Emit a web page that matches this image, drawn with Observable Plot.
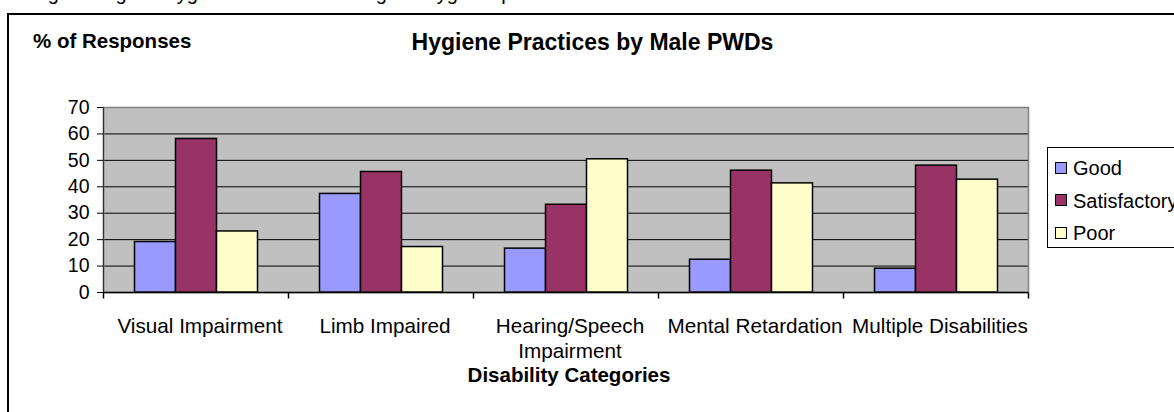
<!DOCTYPE html>
<html>
<head>
<meta charset="utf-8">
<script src="https://cdn.jsdelivr.net/npm/d3@7"></script>
<script src="https://cdn.jsdelivr.net/npm/@observablehq/plot@0.6"></script>
<style>
  html, body { margin: 0; padding: 0; background: #fff; overflow: hidden; }
  #wrap { position: relative; width: 1174px; height: 412px; overflow: hidden; font-family: "Liberation Sans", Arial, sans-serif; color: #000; }
  .abs { position: absolute; white-space: nowrap; line-height: 1; }
  #box { position: absolute; left: 7px; top: 13px; width: 1200px; height: 440px; border: 2px solid #000; box-sizing: border-box; }
  #chart { position: absolute; left: 0; top: 0; }
  #legend { position: absolute; left: 1047px; top: 147px; width: 160px; height: 101px; border: 1px solid #000; box-sizing: border-box; background: #fff; }
  .sw { position: absolute; width: 12px; height: 12px; border: 1px solid #000; box-sizing: border-box; }
  .lt { position: absolute; font-size: 20px; line-height: 1; white-space: nowrap; }
</style>
</head>
<body>
<div id="wrap">
  <div class="abs" style="left:31px; top:-17px; font-size:20px;">Figure 8: good hygiene conditions and good hygiene practices</div>
  <div id="box"></div>
  <div id="chart"></div>
  <div class="abs" style="left:33px; top:30.6px; font-size:20.5px; font-weight:bold;">% of Responses</div>
  <div class="abs" id="title" style="left:592.5px; top:30.5px; font-size:23px; font-weight:bold; transform:translateX(-50%);">Hygiene Practices by Male PWDs</div>
  <div class="abs" style="left:569px; top:364.6px; font-size:20.5px; font-weight:bold; transform:translateX(-50%);">Disability Categories</div>
  <div id="legend"></div>
</div>
<script>
// ---- data ----
const categories = ["Visual Impairment", "Limb Impaired", "Hearing/Speech Impairment", "Mental Retardation", "Multiple Disabilities"];
const categoryLabels = ["Visual Impairment", "Limb Impaired", "Hearing/Speech\nImpairment", "Mental Retardation", "Multiple Disabilities"];
const series = ["Good", "Satisfactory", "Poor"];
const good = [19.1, 37.3, 16.6, 12.4, 9.0];
const satisfactory = [58.1, 45.6, 33.2, 46.1, 48.0];
const poor = [23.1, 17.2, 50.4, 41.3, 42.7];
const colors = ["#9999FF", "#993366", "#FFFFCC"];
const yTicks = [0, 10, 20, 30, 40, 50, 60, 70];

const valuesBySeries = [good, satisfactory, poor];
const data = categories.flatMap((c, i) => series.map((s, j) => ({category: c, series: s, value: valuesBySeries[j][i]})));
const labelOf = new Map(categories.map((c, i) => [c, categoryLabels[i]]));

const tickSymbol = { draw(ctx) { ctx.moveTo(0, 0); ctx.lineTo(0, 6); } };

const chart = Plot.plot({
  width: 1174,
  height: 412,
  marginLeft: 101.5,
  marginRight: 145,
  marginTop: 107,
  marginBottom: 120,
  style: { fontFamily: "'Liberation Sans', Arial, sans-serif", color: "black", background: "transparent", overflow: "visible" },
  fx: { domain: categories, padding: 0, axis: null },
  x: { domain: series, paddingInner: 0, paddingOuter: 0.735, axis: null },
  y: { domain: [0, 70], axis: null, label: null },
  color: { domain: series, range: colors },
  marks: [
    Plot.frame({ facet: "super", fill: "#C0C0C0" }),
    Plot.gridY(yTicks.slice(1, -1), { stroke: "black", strokeOpacity: 1, strokeWidth: 1 }),
    Plot.barY(data, { fx: "category", x: "series", y: "value", fill: "series", stroke: "black", strokeWidth: 1.5 }),
    Plot.frame({ facet: "super", stroke: "#808080", strokeWidth: 1.5 }),
    Plot.frame({ facet: "super", anchor: "left", stroke: "#333", strokeWidth: 1.2 }),
    Plot.ruleY([0], { stroke: "black", strokeWidth: 1.5 }),
    Plot.axisY({ ticks: yTicks, tickSize: 6, tickPadding: 8, fontSize: 19.5, stroke: "black", label: null }),
    Plot.dot(categories, { fx: d => d, frameAnchor: "bottom-left", symbol: tickSymbol, stroke: "black", fill: "none", r: 1 }),
    Plot.dot(categories.slice(-1), { fx: d => d, frameAnchor: "bottom-right", symbol: tickSymbol, stroke: "black", fill: "none", r: 1 }),
    Plot.text(categories, { fx: d => d, text: d => labelOf.get(d), frameAnchor: "bottom", lineAnchor: "top", dy: 23, dx: 4, fontSize: 20.7, lineHeight: 1.2, fill: "black" })
  ]
});
document.getElementById("chart").appendChild(chart);

// ---- legend ----
const legend = document.getElementById("legend");
series.forEach((s, i) => {
  const sw = document.createElement("div");
  sw.className = "sw";
  sw.style.left = "7px";
  sw.style.top = (13.5 + i * 32.5) + "px";
  sw.style.background = colors[i];
  legend.appendChild(sw);
  const t = document.createElement("div");
  t.className = "lt";
  t.textContent = s;
  t.style.left = "25px";
  t.style.top = (10 + i * 32.5) + "px";
  legend.appendChild(t);
});
</script>
</body>
</html>
